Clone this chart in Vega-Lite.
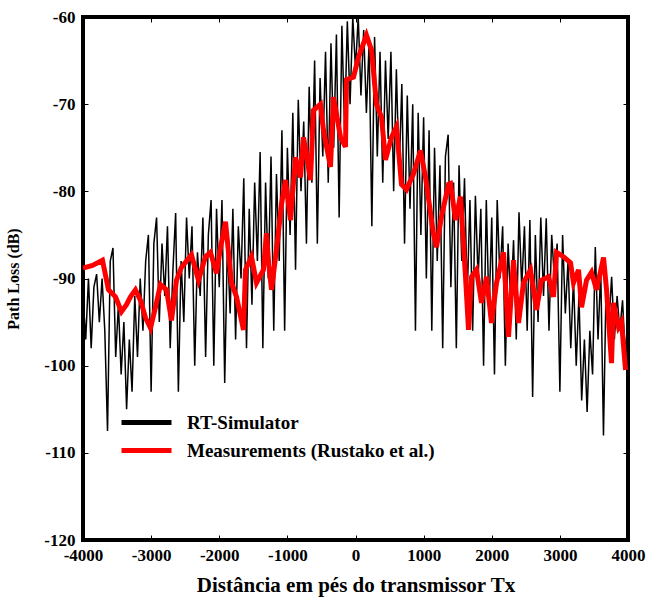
{
  "$schema": "https://vega.github.io/schema/vega-lite/v6.json",
  "width": 545,
  "height": 523,
  "autosize": {"type": "none"},
  "padding": {"left": 83, "top": 17, "right": 20, "bottom": 59},
  "background": "white",
  "config": {
    "view": {"stroke": "black", "strokeWidth": 4},
    "font": "Liberation Serif",
    "axis": {"grid": false, "domain": false, "tickColor": "black", "labelColor": "black", "titleColor": "black",
      "labelFont": "Liberation Serif", "titleFont": "Liberation Serif", "labelFontWeight": "bold", "titleFontWeight": "bold"}
  },
  "datasets": {
    "sim": [
      {"x": -4000, "y": -92}, {"x": -3960, "y": -97}, {"x": -3920, "y": -90}, {"x": -3880, "y": -98}, {"x": -3840, "y": -91},
      {"x": -3800, "y": -89.5}, {"x": -3760, "y": -95}, {"x": -3720, "y": -90}, {"x": -3680, "y": -96}, {"x": -3640, "y": -107.5},
      {"x": -3600, "y": -88}, {"x": -3560, "y": -86.5}, {"x": -3520, "y": -99}, {"x": -3480, "y": -93}, {"x": -3440, "y": -101},
      {"x": -3400, "y": -95}, {"x": -3360, "y": -105}, {"x": -3320, "y": -97}, {"x": -3280, "y": -103}, {"x": -3240, "y": -92},
      {"x": -3200, "y": -99}, {"x": -3160, "y": -90}, {"x": -3120, "y": -96}, {"x": -3080, "y": -88}, {"x": -3040, "y": -85},
      {"x": -3000, "y": -103}, {"x": -2960, "y": -86}, {"x": -2920, "y": -83}, {"x": -2880, "y": -95}, {"x": -2840, "y": -86},
      {"x": -2800, "y": -92}, {"x": -2760, "y": -84}, {"x": -2720, "y": -98}, {"x": -2680, "y": -89}, {"x": -2640, "y": -82.5},
      {"x": -2600, "y": -103}, {"x": -2560, "y": -88}, {"x": -2520, "y": -95}, {"x": -2480, "y": -83}, {"x": -2440, "y": -90},
      {"x": -2400, "y": -84}, {"x": -2360, "y": -100}, {"x": -2320, "y": -87}, {"x": -2280, "y": -92}, {"x": -2240, "y": -83},
      {"x": -2200, "y": -99}, {"x": -2160, "y": -85}, {"x": -2120, "y": -81}, {"x": -2080, "y": -100}, {"x": -2040, "y": -82},
      {"x": -2000, "y": -91}, {"x": -1960, "y": -81}, {"x": -1920, "y": -102}, {"x": -1880, "y": -86}, {"x": -1840, "y": -94},
      {"x": -1800, "y": -82}, {"x": -1760, "y": -97}, {"x": -1720, "y": -84}, {"x": -1680, "y": -90}, {"x": -1640, "y": -78.5},
      {"x": -1600, "y": -98}, {"x": -1560, "y": -82}, {"x": -1520, "y": -93}, {"x": -1480, "y": -79}, {"x": -1440, "y": -88},
      {"x": -1400, "y": -75.5}, {"x": -1360, "y": -98}, {"x": -1320, "y": -79}, {"x": -1280, "y": -90}, {"x": -1240, "y": -76},
      {"x": -1200, "y": -96}, {"x": -1160, "y": -78}, {"x": -1120, "y": -88}, {"x": -1080, "y": -73}, {"x": -1040, "y": -96},
      {"x": -1000, "y": -75}, {"x": -960, "y": -85}, {"x": -920, "y": -71}, {"x": -880, "y": -89}, {"x": -840, "y": -69.5},
      {"x": -800, "y": -80}, {"x": -760, "y": -72}, {"x": -720, "y": -86}, {"x": -680, "y": -68}, {"x": -640, "y": -79},
      {"x": -600, "y": -65}, {"x": -560, "y": -86}, {"x": -520, "y": -67}, {"x": -480, "y": -76}, {"x": -440, "y": -64},
      {"x": -400, "y": -79}, {"x": -360, "y": -63}, {"x": -320, "y": -75}, {"x": -280, "y": -62}, {"x": -240, "y": -83},
      {"x": -200, "y": -61}, {"x": -160, "y": -73}, {"x": -120, "y": -60.5}, {"x": -80, "y": -70}, {"x": -40, "y": -60},
      {"x": 0, "y": -66}, {"x": 40, "y": -60}, {"x": 80, "y": -69}, {"x": 120, "y": -61.5}, {"x": 160, "y": -71},
      {"x": 200, "y": -63}, {"x": 240, "y": -84}, {"x": 280, "y": -62.3}, {"x": 320, "y": -76}, {"x": 360, "y": -64},
      {"x": 400, "y": -79}, {"x": 440, "y": -65}, {"x": 480, "y": -74}, {"x": 520, "y": -64}, {"x": 560, "y": -80},
      {"x": 600, "y": -66}, {"x": 640, "y": -78}, {"x": 680, "y": -67.7}, {"x": 720, "y": -86}, {"x": 760, "y": -69},
      {"x": 800, "y": -82}, {"x": 840, "y": -70}, {"x": 880, "y": -96}, {"x": 920, "y": -71}, {"x": 960, "y": -85},
      {"x": 1000, "y": -71.5}, {"x": 1040, "y": -90}, {"x": 1080, "y": -73}, {"x": 1120, "y": -96}, {"x": 1160, "y": -75},
      {"x": 1200, "y": -88}, {"x": 1240, "y": -77}, {"x": 1280, "y": -98}, {"x": 1320, "y": -76}, {"x": 1360, "y": -73.5},
      {"x": 1400, "y": -91}, {"x": 1440, "y": -79}, {"x": 1480, "y": -98}, {"x": 1520, "y": -77}, {"x": 1560, "y": -88},
      {"x": 1600, "y": -78.5}, {"x": 1640, "y": -92}, {"x": 1680, "y": -81}, {"x": 1720, "y": -96}, {"x": 1760, "y": -80.5},
      {"x": 1800, "y": -90}, {"x": 1840, "y": -82}, {"x": 1880, "y": -100}, {"x": 1920, "y": -81}, {"x": 1960, "y": -94},
      {"x": 2000, "y": -83}, {"x": 2040, "y": -101}, {"x": 2080, "y": -81}, {"x": 2120, "y": -90}, {"x": 2160, "y": -84},
      {"x": 2200, "y": -100}, {"x": 2240, "y": -86}, {"x": 2280, "y": -93}, {"x": 2320, "y": -85.6}, {"x": 2360, "y": -97},
      {"x": 2400, "y": -82.4}, {"x": 2440, "y": -91}, {"x": 2480, "y": -84}, {"x": 2520, "y": -96}, {"x": 2560, "y": -83.3},
      {"x": 2600, "y": -103.6}, {"x": 2640, "y": -85}, {"x": 2680, "y": -95}, {"x": 2720, "y": -83}, {"x": 2760, "y": -92},
      {"x": 2800, "y": -83.1}, {"x": 2840, "y": -96}, {"x": 2880, "y": -85}, {"x": 2920, "y": -90}, {"x": 2960, "y": -86},
      {"x": 3000, "y": -103}, {"x": 3040, "y": -85}, {"x": 3080, "y": -94}, {"x": 3120, "y": -88}, {"x": 3160, "y": -98},
      {"x": 3200, "y": -90}, {"x": 3240, "y": -100}, {"x": 3280, "y": -92}, {"x": 3320, "y": -104}, {"x": 3360, "y": -97},
      {"x": 3400, "y": -105.3}, {"x": 3440, "y": -96}, {"x": 3480, "y": -101}, {"x": 3520, "y": -86.4}, {"x": 3560, "y": -97},
      {"x": 3600, "y": -89}, {"x": 3640, "y": -108}, {"x": 3680, "y": -90}, {"x": 3720, "y": -95}, {"x": 3760, "y": -89.8},
      {"x": 3800, "y": -97}, {"x": 3840, "y": -92}, {"x": 3880, "y": -96}, {"x": 3920, "y": -92.5}, {"x": 3960, "y": -99},
      {"x": 4000, "y": -94}
    ],
    "meas": [
      {"x": -4000, "y": -88.8}, {"x": -3861, "y": -88.5}, {"x": -3714, "y": -87.9}, {"x": -3626, "y": -91.3}, {"x": -3523, "y": -92.1},
      {"x": -3435, "y": -93.8}, {"x": -3362, "y": -93.0}, {"x": -3303, "y": -92.1}, {"x": -3230, "y": -91.3}, {"x": -3156, "y": -92.5},
      {"x": -3083, "y": -94.5}, {"x": -3009, "y": -95.7}, {"x": -2936, "y": -93.3}, {"x": -2863, "y": -90.7}, {"x": -2774, "y": -91.3},
      {"x": -2701, "y": -94.8}, {"x": -2628, "y": -90.2}, {"x": -2554, "y": -88.7}, {"x": -2481, "y": -88.0}, {"x": -2408, "y": -87.3},
      {"x": -2305, "y": -90.2}, {"x": -2202, "y": -87.5}, {"x": -2129, "y": -87.0}, {"x": -2040, "y": -89.4}, {"x": -1982, "y": -86.5},
      {"x": -1908, "y": -83.5}, {"x": -1820, "y": -90.5}, {"x": -1747, "y": -92.1}, {"x": -1644, "y": -95.9}, {"x": -1615, "y": -89.0},
      {"x": -1527, "y": -87.5}, {"x": -1453, "y": -90.5}, {"x": -1351, "y": -89.0}, {"x": -1307, "y": -84.8}, {"x": -1277, "y": -88.0},
      {"x": -1233, "y": -91.3}, {"x": -1160, "y": -86.7}, {"x": -1086, "y": -81.5}, {"x": -1028, "y": -78.7}, {"x": -954, "y": -83.3},
      {"x": -881, "y": -76.1}, {"x": -807, "y": -78.4}, {"x": -763, "y": -73.8}, {"x": -661, "y": -78.7}, {"x": -617, "y": -70.7},
      {"x": -514, "y": -70.0}, {"x": -470, "y": -73.0}, {"x": -367, "y": -77.2}, {"x": -323, "y": -69.2}, {"x": -220, "y": -73.8},
      {"x": -147, "y": -74.9}, {"x": -132, "y": -67.2}, {"x": -29, "y": -66.9}, {"x": 44, "y": -64.6}, {"x": 161, "y": -62.1},
      {"x": 235, "y": -63.8}, {"x": 308, "y": -70.0}, {"x": 382, "y": -71.5}, {"x": 440, "y": -76.4}, {"x": 528, "y": -73.8},
      {"x": 602, "y": -72.6}, {"x": 675, "y": -79.2}, {"x": 749, "y": -79.8}, {"x": 851, "y": -78.0}, {"x": 954, "y": -75.3},
      {"x": 1028, "y": -78.4}, {"x": 1145, "y": -84.9}, {"x": 1189, "y": -86.4}, {"x": 1262, "y": -82.9}, {"x": 1365, "y": -79.2},
      {"x": 1395, "y": -79.1}, {"x": 1468, "y": -83.3}, {"x": 1541, "y": -80.6}, {"x": 1615, "y": -89.8}, {"x": 1659, "y": -95.9},
      {"x": 1703, "y": -89.8}, {"x": 1776, "y": -89.0}, {"x": 1850, "y": -92.8}, {"x": 1923, "y": -89.8}, {"x": 1996, "y": -95.1},
      {"x": 2070, "y": -90.5}, {"x": 2173, "y": -87.0}, {"x": 2246, "y": -96.7}, {"x": 2319, "y": -87.9}, {"x": 2393, "y": -95.1},
      {"x": 2466, "y": -90.5}, {"x": 2569, "y": -89.0}, {"x": 2657, "y": -93.6}, {"x": 2730, "y": -90.2}, {"x": 2833, "y": -89.8},
      {"x": 2907, "y": -92.1}, {"x": 2951, "y": -87.0}, {"x": 3053, "y": -87.5}, {"x": 3156, "y": -88.2}, {"x": 3200, "y": -90.5},
      {"x": 3274, "y": -89.0}, {"x": 3318, "y": -93.3}, {"x": 3391, "y": -90.2}, {"x": 3464, "y": -89.3}, {"x": 3538, "y": -91.3},
      {"x": 3641, "y": -87.6}, {"x": 3685, "y": -91.3}, {"x": 3758, "y": -99.7}, {"x": 3787, "y": -92.8}, {"x": 3861, "y": -95.6},
      {"x": 3905, "y": -95.0}, {"x": 3964, "y": -100.5}
    ]
  },
  "layer": [
    {
      "data": {"name": "sim"},
      "mark": {"type": "line", "strokeWidth": 1.5, "clip": true},
      "encoding": {
        "x": {"field": "x", "type": "quantitative", "scale": {"domain": [-4000, 4000], "nice": false},
          "axis": {"title": "Distância em pés do transmissor Tx", "values": [-4000, -3000, -2000, -1000, 0, 1000, 2000, 3000, 4000],
            "labelExpr": "'' + datum.value",
            "labelFontSize": 17, "titleFontSize": 21, "tickSize": -5, "labelPadding": 12, "titlePadding": 11, "labelFlush": false}},
        "y": {"field": "y", "type": "quantitative", "scale": {"domain": [-120, -60], "nice": false},
          "axis": {"title": "Path Loss (dB)", "values": [-120, -110, -100, -90, -80, -70, -60],
            "labelExpr": "'' + datum.value",
            "labelFontSize": 17, "titleFontSize": 16, "tickSize": -5, "labelPadding": 13, "titlePadding": 22, "labelFlush": false}},
        "color": {"datum": "RT-Simulator", "type": "nominal",
          "scale": {"domain": ["RT-Simulator", "Measurements (Rustako et al.)"], "range": ["black", "#ff0000"]},
          "legend": {"title": null, "orient": "none", "legendX": 51, "legendY": 393,
            "symbolType": "M-2.5,0H2.5", "symbolSize": 400, "symbolStrokeWidth": 5,
            "labelFont": "Liberation Serif", "labelFontSize": 19, "labelFontWeight": "bold", "labelColor": "black",
            "labelLimit": 0, "labelOffset": 28, "rowPadding": 5}}
      }
    },
    {
      "data": {"name": "meas"},
      "mark": {"type": "line", "strokeWidth": 5, "clip": true},
      "encoding": {
        "x": {"field": "x", "type": "quantitative", "axis": {"orient": "top", "labels": false, "title": null, "tickSize": -5,
          "values": [-4000, -3000, -2000, -1000, 0, 1000, 2000, 3000, 4000]}},
        "y": {"field": "y", "type": "quantitative", "axis": {"orient": "right", "labels": false, "title": null, "tickSize": -5,
          "values": [-120, -110, -100, -90, -80, -70, -60]}},
        "color": {"datum": "Measurements (Rustako et al.)", "type": "nominal"}
      }
    }
  ],
  "resolve": {"axis": {"x": "independent", "y": "independent"}}
}
